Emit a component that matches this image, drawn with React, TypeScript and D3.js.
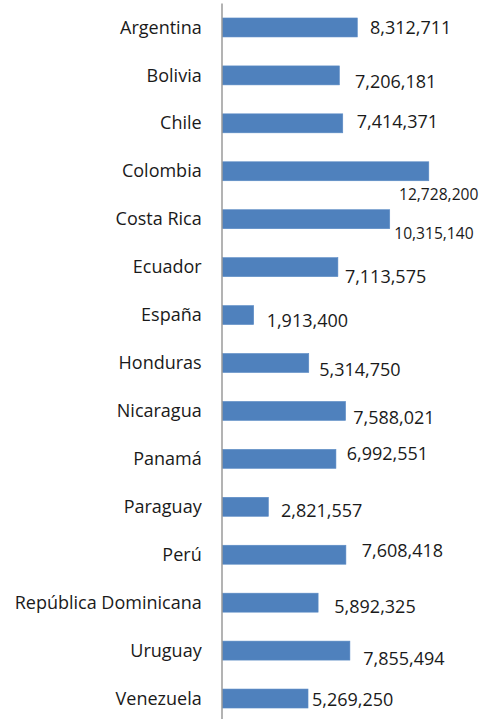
import React from "react";
import * as d3 from "d3";

const categories = [
  "Argentina",
  "Bolivia",
  "Chile",
  "Colombia",
  "Costa Rica",
  "Ecuador",
  "España",
  "Honduras",
  "Nicaragua",
  "Panamá",
  "Paraguay",
  "Perú",
  "República Dominicana",
  "Uruguay",
  "Venezuela",
];

const values = [
  8312711, 7206181, 7414371, 12728200, 10315140, 7113575, 1913400, 5314750,
  7588021, 6992551, 2821557, 7608418, 5892325, 7855494, 5269250,
];

// Hand-placed data label nudges (layout only): [dx from bar end, dy from bar centre]
const labelNudge: [number, number][] = [
  [12.7, 0.3],
  [15.6, 5.8],
  [14, -2],
  [-29.8, 22.4],
  [4.5, 13],
  [7, 9.6],
  [13, 6],
  [10.5, 7],
  [7.7, 7],
  [10.8, -5.2],
  [12.6, 3.5],
  [15.8, -4.4],
  [16.2, 3.6],
  [13.4, 7.7],
  [4, 1.2],
];
const smallLabel = [false, false, false, true, true, false, false, false, false, false, false, false, false, false, false];

const W = 489;
const H = 719;
const FONT = "'Open Sans', Lato, sans-serif";

export default function App() {
  const x = d3.scaleLinear().domain([0, 14000000]).range([222.7, 449.4]);
  const y = d3
    .scaleBand<string>()
    .domain(categories)
    .range([3.5, 722.5])
    .paddingInner(0.604)
    .paddingOuter(0.302);
  const fmt = d3.format(",");
  const fs = 18;

  return (
    <svg
      width={W}
      height={H}
      style={{ position: "absolute", left: 0, top: 0, background: "#fff" }}
      fontFamily={FONT}
    >
      <rect x={0} y={0} width={W} height={H} fill="#ffffff" />
      {categories.map((c, i) => {
        const yc = (y(c) as number) + y.bandwidth() / 2;
        const x1 = x(values[i]);
        const [dx, dy] = labelNudge[i];
        return (
          <g key={c}>
            <rect
              x={x(0)}
              y={y(c)}
              width={x1 - x(0)}
              height={y.bandwidth()}
              fill="#4F81BD"
              stroke="#5B8BC5"
              strokeWidth={0.6}
            />
            <text
              x={201.7}
              y={yc + 0.357 * fs - 0.3}
              textAnchor="end"
              fontSize={fs}
              fill="#1a1a1a"
            >
              {c}
            </text>
            <text
              x={x1 + dx}
              y={yc + dy + 0.357 * fs}
              fontSize={smallLabel[i] ? 15.6 : fs}
              fill="#1a1a1a"
            >
              {fmt(values[i])}
            </text>
          </g>
        );
      })}
      <line x1={222} x2={222} y1={3.5} y2={H} stroke="#8a8a8a" strokeWidth={1.3} />
    </svg>
  );
}
